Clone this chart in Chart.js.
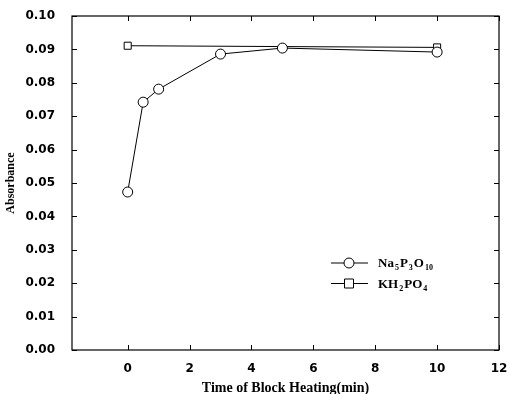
<!DOCTYPE html>
<html>
<head>
<meta charset="utf-8">
<script src="https://cdn.jsdelivr.net/npm/chart.js@4"></script>
<style>
  html, body { margin: 0; padding: 0; background: #fff; }
  #wrap { width: 509px; height: 394px; }
</style>
</head>
<body>
<div id="wrap"><canvas id="chart"></canvas></div>
<script>
// data
const timeNa = [0, 0.5, 1, 3, 5, 10];
const absNa = [0.0473, 0.0742, 0.0781, 0.0886, 0.0904, 0.0892];
const timeKH = [0, 10];
const absKH = [0.0911, 0.0906];
const xTicks = [0, 2, 4, 6, 8, 10, 12];
const yTicks = [0, 0.01, 0.02, 0.03, 0.04, 0.05, 0.06, 0.07, 0.08, 0.09, 0.10];

function pts(xs, ys) {
    return xs.map((x, i) => ({ x: x, y: ys[i] }));
}

// frame with inward ticks on all four sides
const framePlugin = {
    id: 'frame',
    afterDraw(chart) {
        const ctx = chart.ctx, a = chart.chartArea;
        const xs = chart.scales.x, ys = chart.scales.y;
        ctx.save();
        ctx.strokeStyle = '#000';
        ctx.lineWidth = 1.2;
        ctx.strokeRect(a.left, a.top, a.right - a.left, a.bottom - a.top);
        ctx.lineWidth = 1;
        ctx.beginPath();
        xTicks.forEach(v => {
            let px = Math.round(xs.getPixelForValue(v)) + 0.5;
            ctx.moveTo(px, a.bottom); ctx.lineTo(px, a.bottom - 5);
            ctx.moveTo(px, a.top); ctx.lineTo(px, a.top + 5);
        });
        yTicks.forEach(v => {
            let py = Math.round(ys.getPixelForValue(v)) + 0.5;
            ctx.moveTo(a.left, py); ctx.lineTo(a.left + 5, py);
            ctx.moveTo(a.right, py); ctx.lineTo(a.right - 5, py);
        });
        ctx.stroke();
        ctx.restore();
    }
};

// legend with subscripts
const legendPlugin = {
    id: 'subLegend',
    afterDraw(chart) {
        const ctx = chart.ctx;
        const items = [
            { marker: 'circle', parts: [['Na', 0], ['5', 1], ['P', 0], ['3', 1], ['O', 0], ['10', 1]] },
            { marker: 'square', parts: [['KH', 0], ['2', 1], ['PO', 0], ['4', 1]] }
        ];
        ctx.save();
        items.forEach((it, i) => {
            let y = 263 + i * 20.5;
            ctx.strokeStyle = '#000';
            ctx.lineWidth = 1;
            ctx.beginPath();
            ctx.moveTo(331, y); ctx.lineTo(368, y);
            ctx.stroke();
            ctx.fillStyle = '#fff';
            ctx.beginPath();
            if (it.marker === 'circle') ctx.arc(349, y, 5, 0, Math.PI * 2);
            else ctx.rect(344.5, y - 4.5, 9, 9);
            ctx.fill(); ctx.stroke();
            ctx.fillStyle = '#000';
            ctx.textBaseline = 'alphabetic';
            let x = 378;
            it.parts.forEach(p => {
                ctx.font = p[1] ? 'bold 8px "Liberation Serif"' : 'bold 13px "Liberation Serif"';
                ctx.fillText(p[0], x, y + 4 + (p[1] ? 3 : 0));
                x += ctx.measureText(p[0]).width + 1;
            });
        });
        ctx.restore();
    }
};

new Chart(document.getElementById('chart'), {
    type: 'scatter',
    data: {
        datasets: [{
            label: 'Na5P3O10',
            data: pts(timeNa, absNa),
            showLine: true,
            borderColor: '#000',
            borderWidth: 1,
            backgroundColor: '#fff',
            pointStyle: 'circle',
            pointRadius: 5,
            pointBorderWidth: 1,
            pointBorderColor: '#000'
        }, {
            label: 'KH2PO4',
            data: pts(timeKH, absKH),
            showLine: true,
            borderColor: '#000',
            borderWidth: 1,
            backgroundColor: '#fff',
            pointStyle: 'rect',
            pointRadius: 5,
            pointBorderWidth: 1,
            pointBorderColor: '#000'
        }]
    },
    options: {
        responsive: true,
        maintainAspectRatio: false,
        animation: false,
        layout: { padding: { top: 16, right: 10, left: 0, bottom: 0 } },
        plugins: {
            legend: { display: false },
            tooltip: { enabled: false }
        },
        scales: {
            x: {
                type: 'linear',
                min: -1.8,
                max: 12,
                grid: { display: false },
                border: { display: false },
                afterBuildTicks: s => { s.ticks = xTicks.map(v => ({ value: v })); },
                afterFit: s => { s.height = 44; s.paddingRight = 0; s.paddingLeft = 0; },
                ticks: {
                    color: '#000',
                    padding: 4,
                    font: { family: 'DejaVu Sans', weight: 'bold', size: 12 },
                    callback: v => String(v)
                },
                title: {
                    display: true,
                    text: 'Time of Block Heating(min)',
                    color: '#000',
                    padding: { top: 6, bottom: -3 },
                    font: { family: 'Liberation Serif', weight: 'bold', size: 14 }
                }
            },
            y: {
                min: 0,
                max: 0.1,
                grid: { display: false },
                border: { display: false },
                afterBuildTicks: s => { s.ticks = yTicks.map(v => ({ value: v })); },
                afterFit: s => { s.width = 72; s.paddingTop = 0; s.paddingBottom = 0; },
                ticks: {
                    color: '#000',
                    padding: 9,
                    font: { family: 'DejaVu Sans', weight: 'bold', size: 12 },
                    callback: v => v.toFixed(2)
                },
                title: {
                    display: true,
                    text: 'Absorbance',
                    color: '#000',
                    padding: { top: 4, bottom: 8 },
                    font: { family: 'Liberation Serif', weight: 'bold', size: 12 }
                }
            }
        }
    },
    plugins: [framePlugin, legendPlugin]
});
</script>
</body>
</html>
